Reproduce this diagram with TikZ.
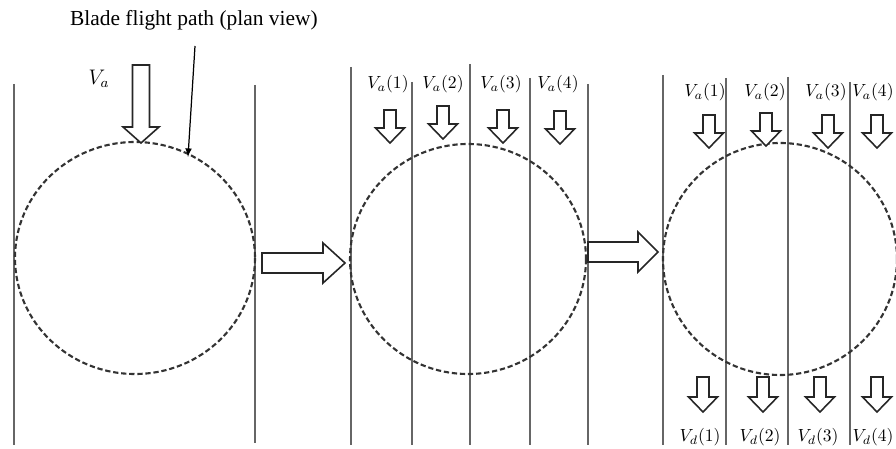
\documentclass[tikz,border=0pt]{standalone}
\usepackage{fontspec}
\setmainfont{Liberation Serif}
\usepackage{tikz}

\tikzset{
    stream/.style={draw=black!60, line width=0.6pt},
    path circle/.style={draw=black!80, line width=1.2pt, dash pattern=on 3pt off 1.6pt},
    block/.style={draw=black!85, line width=0.9pt, fill=white, line join=miter},
    lbl/.style={inner sep=1pt, font=\fontsize{10}{12}\selectfont}
}

% down block arrow: {x}{top}{length}{shaft half}{head half}{head length}
\newcommand{\blockdown}[6]{
    \draw[block] (#1-#4,#2) -- (#1+#4,#2) -- (#1+#4,#2+#3-#6) -- (#1+#5,#2+#3-#6)
        -- (#1,#2+#3) -- (#1-#5,#2+#3-#6) -- (#1-#4,#2+#3-#6) -- cycle;
}
% right block arrow: {left}{y}{length}{shaft half}{head half}{head length}
\newcommand{\blockright}[6]{
    \draw[block] (#1,#2-#4) -- (#1+#3-#6,#2-#4) -- (#1+#3-#6,#2-#5) -- (#1+#3,#2)
        -- (#1+#3-#6,#2+#5) -- (#1+#3-#6,#2+#4) -- (#1,#2+#4) -- cycle;
}

\begin{document}
\begin{tikzpicture}[x=0.02cm, y=-0.02cm]
        \useasboundingbox (0,0) rectangle (896,449);

        % panel 1
        \draw[stream] (14,84) -- (14,445);
        \draw[stream] (255,85) -- (255,443);
        \draw[path circle] (135,258) circle[x radius=120, y radius=116];
        \blockdown{141}{65}{78}{8.5}{18}{16}
        \node[lbl, font=\fontsize{12}{14}\selectfont] (va) at (99,79) {$V_a$};
        \node[lbl, anchor=west, font=\fontsize{12.2}{14}\selectfont] (title) at (68,20) {Blade flight path (plan view)};
        \coordinate (hit) at (188,157);
        \draw[-latex, line width=0.7pt] (195,46) -- (hit);

        \blockright{262}{263}{83}{10}{20}{22}

        % panel 2
        \foreach \x/\t in {351/67, 412/82, 470/64, 530/78, 588/84} {
            \draw[stream] (\x,\t) -- (\x,445);
        }
        \draw[path circle] (468,259) circle[x radius=118, y radius=115];
        \foreach \x/\t [count=\i] in {390/110, 443/106, 503/110, 560/111} {
            \blockdown{\x}{\t}{33}{6}{14.5}{15}
        }
        \foreach \x [count=\i] in {388, 443, 501, 558} {
            \node[lbl] (vaa\i) at (\x,84) {$V_a(\i)$};
        }

        \blockright{588}{252}{70}{10}{20}{20}

        % panel 3
        \foreach \x/\t in {663/75, 726/78, 788/77, 850/82} {
            \draw[stream] (\x,\t) -- (\x,445);
        }
        \draw[path circle] (780,259) circle[x radius=117, y radius=116];
        \foreach \x/\t in {709/115, 766/113, 828/115, 877/115} {
            \blockdown{\x}{\t}{33}{6}{14.5}{15}
        }
        \foreach \x [count=\i] in {705, 765, 826, 873} {
            \node[lbl] (vab\i) at (\x,92) {$V_a(\i)$};
        }
        \foreach \x in {703, 763, 820, 877} {
            \blockdown{\x}{377}{35}{6}{14.5}{15}
        }
        \foreach \x [count=\i] in {700, 760, 818, 873} {
            \node[lbl] (vd\i) at (\x,437) {$V_d(\i)$};
        }
    \end{tikzpicture}
\end{document}
